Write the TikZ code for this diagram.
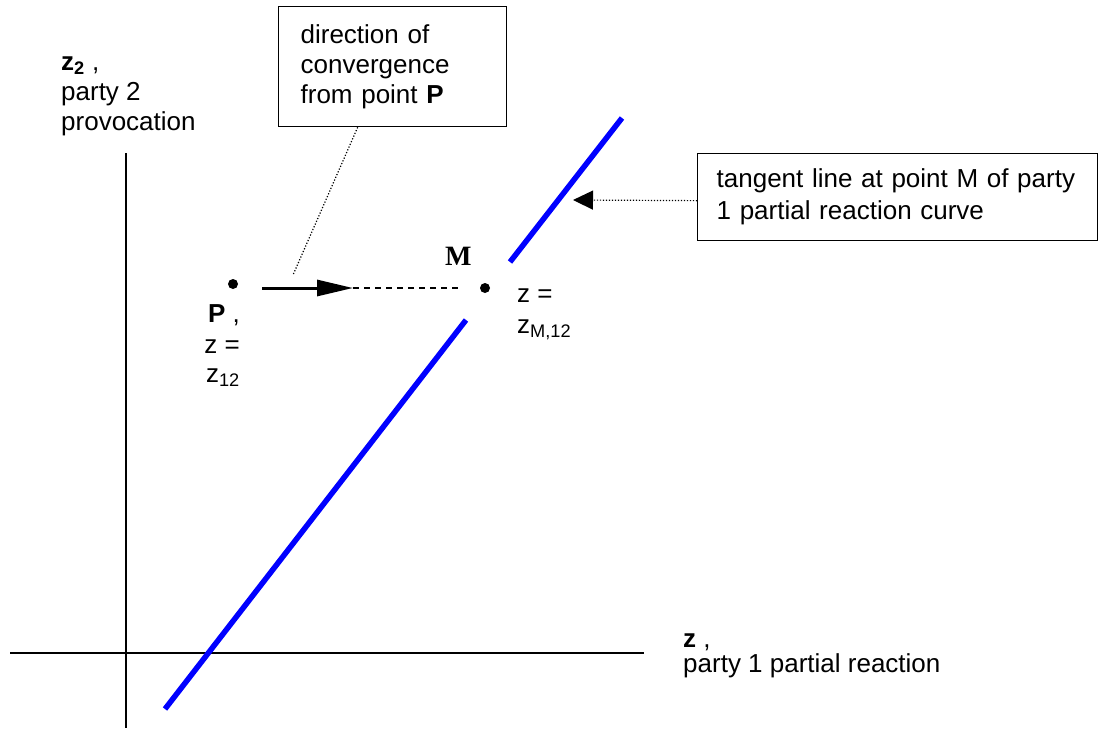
\documentclass[tikz,border=0pt]{standalone}
\usepackage{fontspec}
\setmainfont{Liberation Sans}
\newfontfamily\mserif{Liberation Serif}
\usetikzlibrary{arrows.meta}
\begin{document}
\begin{tikzpicture}[x=1pt,y=-1pt,
  every node/.style={font=\fontsize{26}{30}\selectfont, inner sep=0pt},
  axisline/.style={line width=2pt},
  tangentline/.style={draw=blue, line width=5.5pt},
  callout/.style={draw, line width=1.3pt, align=left, anchor=north west},
  lblw/.style={anchor=base west},
  lble/.style={anchor=base east},
  ptdot/.style={circle, fill=black, inner sep=0pt, minimum size=10pt},
  dotline/.style={line width=1.2pt, dash pattern=on 1.2pt off 1.8pt},
  mainarrow/.style={line width=3pt, -{Triangle[length=36pt,width=16pt]}},
  dashline/.style={line width=1.6pt, dash pattern=on 6pt off 5pt}]
\useasboundingbox (0,0) rectangle (1105,728);
% axes
\coordinate (ytop) at (126,153);
\coordinate (ybot) at (126,728);
\coordinate (xl) at (10,653);
\coordinate (xr) at (644,653);
\draw[axisline] (ytop) -- (ybot);
\draw[axisline] (xl) -- (xr);
% tangent line (with gap around M)
\coordinate (b0) at (165,709);
\coordinate (b1) at (466,320);
\coordinate (b2) at (510,262);
\coordinate (b3) at (622,118);
\draw[tangentline] (b0) -- (b1);
\draw[tangentline] (b2) -- (b3);
% axis labels
\node[lblw] (z2a) at (61,70) {\textbf{z\textsubscript{2}} ,};
\node[lblw] (z2b) at (61,100) {party 2};
\node[lblw] (z2c) at (61,130) {provocation};
\node[lblw] (z1a) at (683,647) {\textbf{z} ,};
\node[lblw] (z1b) at (683,672) {party 1 partial reaction};
% point P
\node[ptdot] (P) at (233,284) {};
\node[lble] (Pa) at (240,322) {\textbf{P} ,};
\node[lble] (Pb) at (240,353) {z =};
\node[lble] (Pc) at (240,382) {z\textsubscript{12}};
% point M
\node[ptdot] (M) at (485,288) {};
\node[lblw, font=\mserif\bfseries\fontsize{28}{30}\selectfont] (Ma) at (445,265) {M};
\node[lblw] (Mb) at (517,302) {z =};
\node[lblw] (Mc) at (517,333) {z\textsubscript{M,12}};
% convergence arrow
\coordinate (a0) at (262,288);
\coordinate (a1) at (353,288);
\coordinate (a2) at (458,288);
\draw[mainarrow] (a0) -- (a1);
\draw[dashline] (a1) -- (a2);
% callout boxes
\node[callout, text width=184pt, inner xsep=22pt, minimum height=120pt] (dirbox) at (278,6)
  {direction of\\convergence\\from point \textbf{P}};
\node[callout, text width=362pt, inner xsep=19pt, minimum height=87pt,
  font=\fontsize{26}{32}\selectfont] (tanbox) at (697,153)
  {tangent line at point M of party\\1 partial reaction curve};
\coordinate (d1) at (293,275);
\draw[dotline] ([xshift=-35pt]dirbox.south) -- (d1);
\coordinate (t1) at (573,200);
\draw[dotline, -{Triangle[length=20pt,width=19pt]}] ([yshift=-3.5pt]tanbox.west) -- (t1);
\end{tikzpicture}
\end{document}
